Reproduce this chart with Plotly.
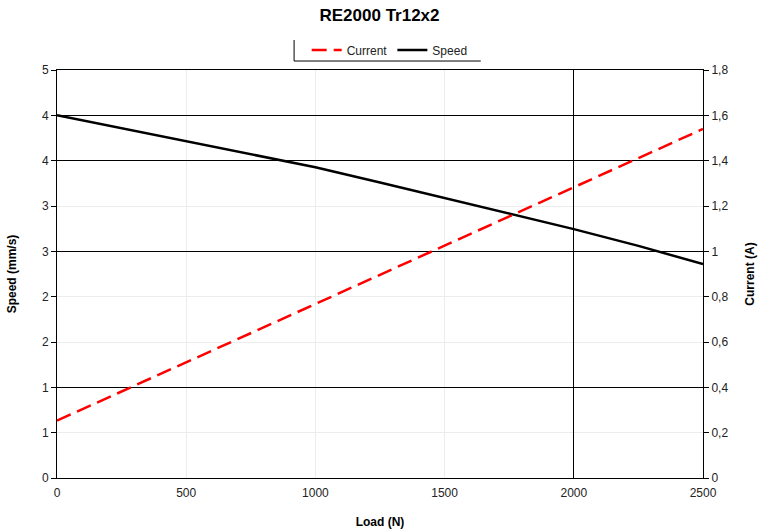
import plotly.graph_objects as go

# ---- data ----
load_n = [0, 250, 500, 750, 1000, 1250, 1500, 1750, 2000, 2250, 2500]
speed_mm_s = [4.00, 3.857, 3.715, 3.572, 3.428, 3.26, 3.088, 2.915, 2.745, 2.56, 2.36]
current_a = [0.253, 0.382, 0.51, 0.639, 0.768, 0.897, 1.025, 1.154, 1.282, 1.411, 1.54]

speed_tickvals = [0, 0.5, 1.0, 1.5, 2.0, 2.5, 3.0, 3.5, 4.0, 4.5]
speed_ticktext = ["0", "1", "1", "2", "2", "3", "3", "4", "4", "5"]
current_tickvals = [0, 0.2, 0.4, 0.6, 0.8, 1.0, 1.2, 1.4, 1.6, 1.8]
current_ticktext = ["0", "0,2", "0,4", "0,6", "0,8", "1", "1,2", "1,4", "1,6", "1,8"]
load_tickvals = [0, 500, 1000, 1500, 2000, 2500]

# gridlines drawn dark in the reference (others are faint)
dark_h_grid_speed = [4.0, 3.5, 2.5, 1.0]
dark_v_grid_load = [2000]

FONT = "Liberation Sans, Arial, sans-serif"

fig = go.Figure()
# invisible helper trace that carries the overlay axes used for the dark gridlines
fig.add_trace(go.Scatter(
    x=load_n, y=speed_mm_s, xaxis="x2", yaxis="y3", mode="lines",
    line=dict(width=0, color="rgba(0,0,0,0)"), showlegend=False, hoverinfo="skip",
))
fig.add_trace(go.Scatter(
    x=load_n, y=current_a, name="Current", mode="lines", yaxis="y2",
    line=dict(color="#ff0000", width=2.5, dash="15px,7px"),
))
fig.add_trace(go.Scatter(
    x=load_n, y=speed_mm_s, name="Speed", mode="lines", yaxis="y",
    line=dict(color="#000000", width=2.5),
))

# partial legend frame (left and bottom edges)
lx0, lx1, ly0, ly1 = 0.367, 0.656, 1.022, 1.0735
shapes = [
    dict(type="line", xref="paper", yref="paper", x0=lx0, x1=lx0, y0=ly0, y1=ly1,
         line=dict(color="#000000", width=1)),
    dict(type="line", xref="paper", yref="paper", x0=lx0, x1=lx1, y0=ly0, y1=ly0,
         line=dict(color="#000000", width=1)),
]

fig.update_layout(
    width=759, height=529,
    margin=dict(l=57, r=56, t=70, b=51, autoexpand=False),
    paper_bgcolor="white", plot_bgcolor="white",
    font=dict(family=FONT, size=12, color="#222222"),
    title=dict(text="<b>RE2000 Tr12x2</b>", x=0.5, xanchor="center", y=0.972, yanchor="middle",
               font=dict(family=FONT, size=17, color="#000000")),
    showlegend=True,
    legend=dict(orientation="h", x=0.515, xanchor="center", y=1.049, yanchor="middle",
                font=dict(family=FONT, size=12, color="#222222"),
                bgcolor="rgba(0,0,0,0)", tracegroupgap=0),
    xaxis=dict(range=[0, 2500], tickvals=load_tickvals, showline=True, linecolor="#000000",
               linewidth=1, mirror=True, showgrid=True, gridcolor="#ececec", gridwidth=1,
               zeroline=False, ticks="", automargin=False, ticklabelstandoff=4,
               title=dict(text="<b>Load (N)</b>", standoff=20,
                          font=dict(family=FONT, size=12, color="#000000"))),
    xaxis2=dict(range=[0, 2500], overlaying="x", side="top", tickvals=dark_v_grid_load,
                showticklabels=False, ticks="", showgrid=True, gridcolor="#000000",
                gridwidth=1, zeroline=False, showline=False, automargin=False),
    yaxis=dict(range=[0, 4.5], tickvals=speed_tickvals, ticktext=speed_ticktext,
               showline=True, linecolor="#000000", linewidth=1, showgrid=True,
               gridcolor="#ececec", zeroline=False, ticks="outside", ticklen=5,
               tickcolor="#000000", automargin=False,
               title=dict(text="<b>Speed (mm/s)</b>", standoff=22,
                          font=dict(family=FONT, size=12, color="#000000"))),
    yaxis2=dict(range=[0, 1.8], tickvals=current_tickvals, ticktext=current_ticktext,
                overlaying="y", side="right", showline=True, linecolor="#000000", linewidth=1,
                showgrid=False, zeroline=False, ticks="outside", ticklen=5, tickcolor="#000000",
                automargin=False,
                title=dict(text="<b>Current (A)</b>", standoff=18,
                           font=dict(family=FONT, size=12, color="#000000"))),
    yaxis3=dict(range=[0, 4.5], overlaying="y", side="left", tickvals=dark_h_grid_speed,
                showticklabels=False, ticks="", showgrid=True, gridcolor="#000000",
                gridwidth=1, zeroline=False, showline=False, automargin=False),
    shapes=shapes,
)

fig.write_html("out.html", config={"displayModeBar": False},
               post_script="document.body.style.margin='0';")
